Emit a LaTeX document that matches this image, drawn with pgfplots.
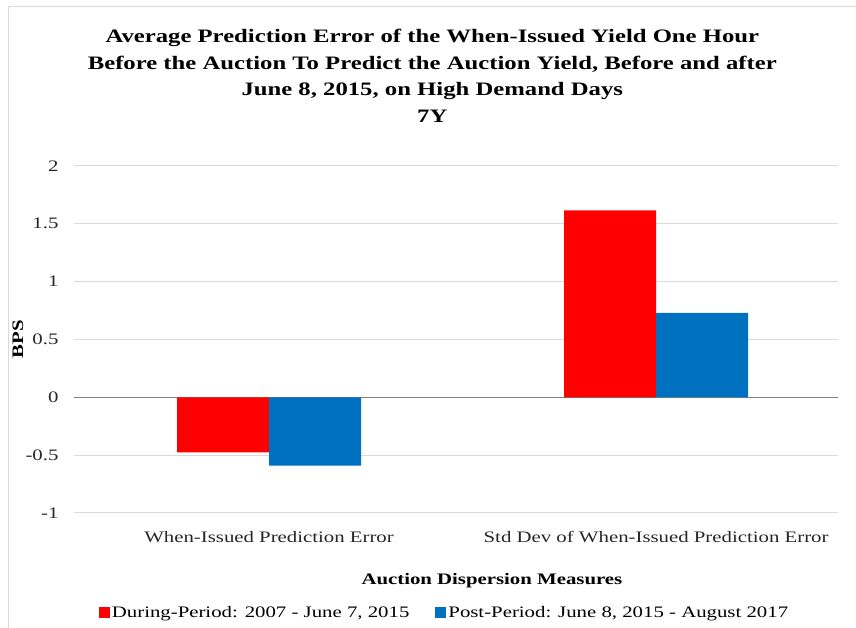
\documentclass[border=0pt]{standalone}
\usepackage{pgfplots}
\pgfplotsset{compat=1.18}
\usepackage{fontspec}
\setmainfont{Liberation Serif}[FakeStretch=1.3]
\definecolor{cred}{HTML}{FF0000}
\definecolor{cblue}{HTML}{0070C0}
\definecolor{gridc}{HTML}{D9D9D9}
\definecolor{zeroc}{HTML}{808080}
\definecolor{framec}{HTML}{D9D9D9}
\begin{document}
\begin{tikzpicture}[x=1pt,y=1pt]
\path[use as bounding box] (0,0) rectangle (856,628);
\draw[framec,line width=1pt] (8,0) -- (8,621) -- (856,621);
\begin{axis}[
  at={(74pt,115pt)}, anchor=south west,
  scale only axis, width=764pt, height=347pt,
  xmin=-0.504, xmax=1.47,
  ymin=-1, ymax=2,
  ytick={-1,-0.5,0,0.5,1,1.5,2},
  yticklabels={-1,-0.5,0,0.5,1,1.5,2},
  xtick={0,1},
  xticklabels={When-Issued Prediction Error, Std Dev of When-Issued Prediction Error},
  major tick length=0pt,
  axis line style={draw=none},
  ymajorgrids, grid style={gridc, line width=1pt},
  ybar=0pt, bar width=92pt,
  tick label style={font=\fontsize{16}{19}\selectfont, text=black!85},
  /pgf/number format/assume math mode=true,
  yticklabel style={xshift=-12pt},
  xticklabel style={yshift=-15pt},
  every axis y label/.style={at={(rel axis cs:-0.0733,0.5)}, rotate=90, anchor=center, font=\fontsize{16}{19}\selectfont},
  ylabel={\textbf{BPS}},
  xlabel={\textbf{Auction Dispersion Measures}},
  xlabel style={font=\fontsize{16}{19}\selectfont, at={(rel axis cs:0.547,-0.196)}, anchor=center},
  title={\textbf{Average Prediction Error of the When-Issued Yield One Hour}\\\textbf{Before the Auction To Predict the Auction Yield, Before and after}\\\textbf{June 8, 2015, on High Demand Days}\\\textbf{7Y}},
  title style={font=\fontsize{19}{26.5}\selectfont, align=center, at={(rel axis cs:0.469,1.242)}, anchor=center},
  legend style={at={(rel axis cs:0.485,-0.287)}, anchor=center, draw=none, font=\fontsize{16}{19}\selectfont, legend columns=2, /tikz/every even column/.append style={column sep=24pt}},
  legend image code/.code={\fill[#1] (0pt,-5.5pt) rectangle (11pt,5.5pt);},
  clip=false,
]
\draw[zeroc, line width=1.5pt] (axis cs:-0.504,0) -- (axis cs:1.47,0);
\addplot[fill=cred, draw=none] coordinates {(0,-0.476) (1,1.616)};
\addplot[fill=cblue, draw=none] coordinates {(0,-0.59) (1,0.73)};
\legend{{During-Period: 2007 - June 7, 2015}, {Post-Period: June 8, 2015 - August 2017}}
\end{axis}
\end{tikzpicture}
\end{document}
